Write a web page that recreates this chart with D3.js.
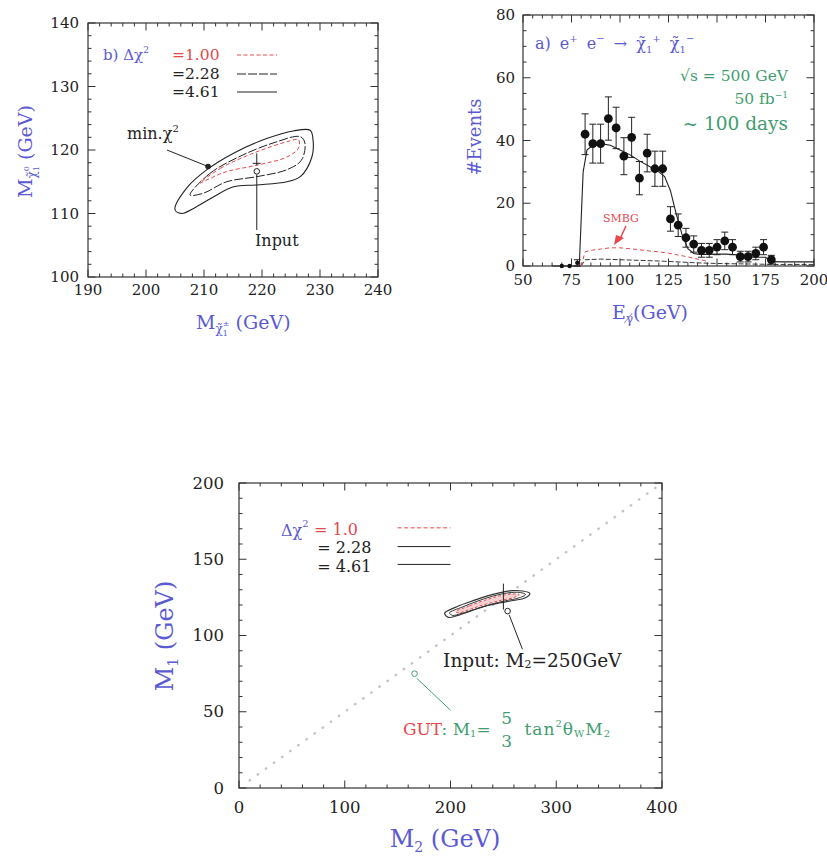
<!DOCTYPE html>
<html><head><meta charset="utf-8">
<script src="https://cdn.jsdelivr.net/npm/d3@7"></script>
<style>
body{margin:0;background:#fff}
svg{display:block}
text{font-family:'DejaVu Serif',serif}
</style>
</head><body>
<svg id="c" width="827" height="863"></svg>
<script>
// ---------------- DATA ----------------
// Panel b (top-left): chargino / neutralino mass fit contours [M_chargino, M_neutralino]
const bXTicks = [190, 200, 210, 220, 230, 240];
const bYTicks = [100, 110, 120, 130, 140];
const bLevels = ["=1.00", "=2.28", "=4.61"];
const bContour461 = [[205.0,110.6],[207.0,114.0],[210.5,116.9],[215.1,119.5],[220.8,121.8],[225.4,123.0],[228.3,123.1],[228.8,121.6],[228.6,118.9],[226.6,115.8],[224.3,115.0],[219.1,114.5],[215.1,114.2],[211.6,112.6],[208.2,110.8],[206.2,110.0]];
const bContour228 = [[207.6,112.9],[211.0,116.3],[216.2,119.0],[221.9,121.1],[226.6,122.1],[227.4,121.1],[226.8,118.4],[224.3,116.9],[219.1,115.8],[213.9,115.0],[209.9,113.2]];
const bContour100 = [[209.3,114.8],[212.8,117.1],[218.5,119.5],[224.3,121.3],[226.3,121.6],[226.3,120.3],[224.3,118.9],[219.1,117.6],[213.9,116.6],[210.5,115.3]];
const bMinChi2 = [210.7, 117.4];
const bInput = [219.1, 117.9];

// Panel a (top-right): photon energy spectrum
const aXTicks = [50, 75, 100, 125, 150, 175, 200];
const aYTicks = [0, 20, 40, 60, 80];
const evX   = [70, 74, 78, 82, 86, 90, 94, 98, 102, 106, 110, 114, 118, 122, 126, 130, 134, 138, 142, 146, 150, 154, 158, 162, 166, 170, 174, 178];
const evY   = [0, 0, 1, 42, 39, 39, 47, 44, 35, 41, 28, 36, 31, 31, 15, 13, 9, 7, 5, 5, 6, 8, 6, 3, 3, 4, 6, 2];
const evErr = [0, 0, 1, 6.5, 6.2, 6.2, 6.9, 6.6, 5.9, 6.4, 5.3, 6.0, 5.6, 5.6, 3.9, 3.6, 3.0, 2.6, 2.2, 2.2, 2.4, 2.8, 2.4, 1.7, 1.7, 2.0, 2.4, 1.4];
const totX  = [65, 79, 80, 81, 83, 86, 90, 95, 100, 105, 110, 115, 120, 123, 126, 129, 132, 135, 138, 141, 145, 150, 155, 160, 163, 170, 175, 178, 185, 190, 200];
const totY  = [0, 0, 15, 30, 37, 38.5, 39, 38.5, 37, 35.5, 33.5, 31.8, 30, 28.5, 24, 16.5, 10, 5.5, 4, 3.7, 3.7, 3.8, 3.8, 3.6, 2.8, 2.8, 2.8, 1.4, 1.3, 1.3, 1.3];
const smbgX = [80, 82, 86, 90, 95, 100, 105, 110, 115, 120, 125, 130, 135, 140, 145];
const smbgY = [0, 4.5, 5.1, 5.4, 5.8, 5.8, 5.5, 5.2, 4.8, 4.5, 4.1, 3.5, 2.9, 2.2, 1.5];
const bgX   = [80, 82, 90, 100, 110, 120, 130, 140, 150, 160, 170, 180, 190, 200];
const bgY   = [0, 2.0, 2.2, 2.0, 1.8, 1.6, 1.3, 1.0, 0.8, 0.7, 0.6, 0.5, 0.5, 0.5];

// Bottom panel: M1 vs M2
const cXTicks = [0, 100, 200, 300, 400];
const cYTicks = [0, 50, 100, 150, 200];
const cLevels = ["= 1.0", "= 2.28", "= 4.61"];
const cContour461 = [[194.5,114.6],[204,118.3],[218,122],[232,125.3],[245,127.8],[258,129.4],[268,129.2],[275,127.6],[271,124.8],[258,122.8],[246,121.3],[233,119.3],[220,116.3],[207,113.2],[198,111.9]];
const cContour228 = [[199,114.8],[211,118.6],[225,122.4],[240,125.8],[255,128],[266,128.2],[271,126.8],[264,124.5],[252,122.8],[238,120.4],[224,117.4],[210,114.4],[202,113.2]];
const cContour100 = [[205,115.6],[218,119.5],[232,123],[246,125.9],[258,127.2],[265,126.8],[260,124.9],[248,123.1],[234,120.6],[220,117.6],[208,114.8]];
const cInput = [250, 126];
const gutM2 = [10, 395];
const gutM1 = [5, 197.5];

// ---------------- DRAWING ----------------
const BLUE = '#5a5ad2', RED = '#e5484d', GREEN = '#3f9d70', INK = '#333', TXT = '#222';
const SANS = 'Liberation Sans, Arial, sans-serif';
const svg = d3.select('#c');

function frame(g, xs, ys, xMaj, xMinStep, yMaj, yMinStep, fs, xOff, yOff) {
  const [xa, xb] = xs.range(), [ya, yb] = ys.range();
  g.append('rect').attr('x', xa).attr('y', yb).attr('width', xb - xa).attr('height', ya - yb)
    .attr('fill', 'none').attr('stroke', INK).attr('stroke-width', 1.2);
  const [dx0, dx1] = xs.domain(), [dy0, dy1] = ys.domain();
  const tk = g.append('g').attr('stroke', INK).attr('stroke-width', 1);
  d3.range(dx0, dx1 + 1e-9, xMinStep).forEach(v => {
    const isMaj = xMaj.some(m => Math.abs(m - v) < 1e-6);
    const L = isMaj ? 7.5 : 3.5;
    tk.append('line').attr('x1', xs(v)).attr('x2', xs(v)).attr('y1', ya).attr('y2', ya - L);
    tk.append('line').attr('x1', xs(v)).attr('x2', xs(v)).attr('y1', yb).attr('y2', yb + L);
  });
  d3.range(dy0, dy1 + 1e-9, yMinStep).forEach(v => {
    const isMaj = yMaj.some(m => Math.abs(m - v) < 1e-6);
    const L = isMaj ? 7.5 : 3.5;
    tk.append('line').attr('y1', ys(v)).attr('y2', ys(v)).attr('x1', xa).attr('x2', xa + L);
    tk.append('line').attr('y1', ys(v)).attr('y2', ys(v)).attr('x1', xb).attr('x2', xb - L);
  });
  g.selectAll(null).data(xMaj).enter().append('text')
    .attr('x', d => xs(d)).attr('y', ya + xOff).attr('text-anchor', 'middle')
    .attr('dominant-baseline', 'central').attr('font-size', fs).attr('fill', TXT).text(d => d);
  g.selectAll(null).data(yMaj).enter().append('text')
    .attr('x', xa - yOff).attr('y', d => ys(d)).attr('text-anchor', 'end')
    .attr('dominant-baseline', 'central').attr('font-size', fs).attr('fill', TXT).text(d => d);
}

const closed = (xs, ys) => d3.line().x(d => xs(d[0])).y(d => ys(d[1])).curve(d3.curveCatmullRomClosed.alpha(0.5));

// ===== Panel b (top-left) =====
{
  const g = svg.append('g');
  const xs = d3.scaleLinear([190, 240], [88, 378]);
  const ys = d3.scaleLinear([100, 140], [277, 23]);
  frame(g, xs, ys, bXTicks, 2, bYTicks, 2, 15, 13, 9);

  const line = closed(xs, ys);
  g.append('path').attr('d', line(bContour461)).attr('fill', 'none').attr('stroke', '#222').attr('stroke-width', 1.1);
  g.append('path').attr('d', line(bContour228)).attr('fill', 'none').attr('stroke', '#222').attr('stroke-width', 1).attr('stroke-dasharray', '9,2');
  g.append('path').attr('d', line(bContour100)).attr('fill', 'none').attr('stroke', RED).attr('stroke-width', 1).attr('stroke-dasharray', '4,2.5');

  // min chi2 marker + label
  g.append('line').attr('x1', 167).attr('y1', 150).attr('x2', xs(bMinChi2[0])).attr('y2', ys(bMinChi2[1])).attr('stroke', '#222');
  g.append('circle').attr('cx', xs(bMinChi2[0])).attr('cy', ys(bMinChi2[1])).attr('r', 2.8).attr('fill', '#222');
  const mt = g.append('text').attr('x', 127).attr('y', 139).attr('font-size', 16).attr('fill', TXT);
  mt.append('tspan').text('min.χ');
  mt.append('tspan').attr('dy', -7).attr('font-size', 10).text('2');

  // input marker
  const ix = xs(bInput[0]), iy = ys(bInput[1]);
  g.append('line').attr('x1', ix).attr('x2', ix).attr('y1', iy - 10).attr('y2', iy + 2).attr('stroke', '#222');
  g.append('line').attr('x1', ix - 4).attr('x2', ix + 4).attr('y1', iy).attr('y2', iy).attr('stroke', '#222');
  g.append('circle').attr('cx', ix).attr('cy', iy + 8).attr('r', 2.8).attr('fill', 'none').attr('stroke', '#222');
  g.append('line').attr('x1', ix).attr('x2', ix).attr('y1', iy + 11).attr('y2', 230).attr('stroke', '#222');
  g.append('text').attr('x', 255).attr('y', 246).attr('font-size', 16).attr('fill', TXT).text('Input');

  // legend
  const lg = g.append('g');
  const bt = lg.append('text').attr('x', 103).attr('y', 60).attr('font-size', 15).attr('fill', BLUE);
  bt.append('tspan').text('b) Δχ');
  bt.append('tspan').attr('dy', -7).attr('font-size', 9).text('2');
  const legY = [60, 79, 97];
  const legStyle = [{c: RED, d: '4,2.5'}, {c: '#222', d: '9,2'}, {c: '#222', d: null}];
  bLevels.forEach((t, i) => {
    lg.append('text').attr('x', 172).attr('y', legY[i]).attr('font-size', 15.5).attr('fill', i === 0 ? RED : TXT).text(t);
    const l = lg.append('line').attr('x1', 237).attr('x2', 277).attr('y1', legY[i] - 5).attr('y2', legY[i] - 5)
      .attr('stroke', legStyle[i].c).attr('stroke-width', 1);
    if (legStyle[i].d) l.attr('stroke-dasharray', legStyle[i].d);
  });

  // axis titles
  const xt = g.append('text').attr('x', 196).attr('y', 329).attr('font-size', 19).attr('fill', BLUE);
  xt.append('tspan').text('M');
  xt.append('tspan').attr('dy', 4).attr('font-size', 12).text('χ̃');
  xt.append('tspan').attr('dy', 3).attr('font-size', 8).text('1');
  xt.append('tspan').attr('dy', -10).attr('dx', -5).attr('font-size', 8).text('±');
  xt.append('tspan').attr('dy', 3).attr('font-size', 19).text(' (GeV)');

  const yt = g.append('text').attr('transform', 'translate(32,198) rotate(-90)').attr('font-size', 19).attr('fill', BLUE);
  yt.append('tspan').text('M');
  yt.append('tspan').attr('dy', 4).attr('font-size', 12).text('χ̃');
  yt.append('tspan').attr('dy', 3).attr('font-size', 8).text('1');
  yt.append('tspan').attr('dy', -10).attr('dx', -5).attr('font-size', 8).text('0');
  yt.append('tspan').attr('dy', 3).attr('font-size', 19).text(' (GeV)');
}

// ===== Panel a (top-right) =====
{
  const g = svg.append('g');
  const xs = d3.scaleLinear([50, 200], [523, 814]);
  const ys = d3.scaleLinear([0, 80], [266, 15]);
  frame(g, xs, ys, aXTicks, 5, aYTicks, 5, 15, 14, 8);

  const ln = (X, Y) => d3.line().x((d, i) => xs(X[i])).y((d, i) => ys(Y[i]))(X);
  g.append('path').attr('d', ln(bgX, bgY)).attr('fill', 'none').attr('stroke', '#222').attr('stroke-width', 0.9).attr('stroke-dasharray', '5,2');
  g.append('path').attr('d', ln(smbgX, smbgY)).attr('fill', 'none').attr('stroke', RED).attr('stroke-width', 1).attr('stroke-dasharray', '4,3');
  g.append('path').attr('d', ln(totX, totY)).attr('fill', 'none').attr('stroke', '#222').attr('stroke-width', 1.1);

  const pts = g.append('g');
  evX.forEach((x, i) => {
    const cx = xs(x);
    if (evErr[i] > 0) {
      const y1 = ys(evY[i] + evErr[i]), y2 = ys(evY[i] - evErr[i]);
      pts.append('line').attr('x1', cx).attr('x2', cx).attr('y1', y1).attr('y2', y2).attr('stroke', '#222').attr('stroke-width', 1);
      pts.append('line').attr('x1', cx - 3.5).attr('x2', cx + 3.5).attr('y1', y1).attr('y2', y1).attr('stroke', '#222');
      pts.append('line').attr('x1', cx - 3.5).attr('x2', cx + 3.5).attr('y1', y2).attr('y2', y2).attr('stroke', '#222');
    }
    pts.append('circle').attr('cx', cx).attr('cy', ys(evY[i])).attr('r', evY[i] > 1 ? 4.4 : 2.2).attr('fill', '#111');
  });

  // SMBG label + arrow
  g.append('text').attr('x', 603).attr('y', 222).attr('font-family', SANS)
    .attr('font-size', 11).attr('fill', RED).text('SMBG');
  g.append('line').attr('x1', 626).attr('y1', 226).attr('x2', 619).attr('y2', 241).attr('stroke', RED).attr('stroke-width', 1.5);
  g.append('path').attr('d', 'M614,245 L616,235 L624,238 Z').attr('fill', RED);

  // process label
  const pt = g.append('text').attr('x', 535).attr('y', 49).attr('font-size', 16).attr('word-spacing', 4).attr('fill', BLUE);
  pt.append('tspan').text('a) e');
  pt.append('tspan').attr('dy', -7).attr('font-size', 10).text('+');
  pt.append('tspan').attr('dy', 7).text(' e');
  pt.append('tspan').attr('dy', -7).attr('font-size', 10).text('−');
  pt.append('tspan').attr('dy', 7).text(' → χ̃');
  pt.append('tspan').attr('dy', 4).attr('font-size', 10).text('1');
  pt.append('tspan').attr('dy', -11).attr('font-size', 10).text('+');
  pt.append('tspan').attr('dy', 7).text(' χ̃');
  pt.append('tspan').attr('dy', 4).attr('font-size', 10).text('1');
  pt.append('tspan').attr('dy', -11).attr('font-size', 10).text('−');

  g.append('text').attr('x', 788).attr('y', 81).attr('text-anchor', 'end').attr('font-size', 15.5).attr('fill', GREEN).text('√s = 500 GeV');
  const fb = g.append('text').attr('x', 788).attr('y', 104).attr('text-anchor', 'end').attr('font-size', 15.5).attr('fill', GREEN);
  fb.append('tspan').text('50 fb');
  fb.append('tspan').attr('dy', -6).attr('font-size', 9).text('−1');
  g.append('text').attr('x', 788).attr('y', 130).attr('text-anchor', 'end').attr('font-family', SANS)
    .attr('font-size', 18.5).attr('fill', GREEN).text('~ 100 days');

  const xt = g.append('text').attr('x', 612).attr('y', 319).attr('font-size', 19).attr('fill', BLUE);
  xt.append('tspan').text('E');
  xt.append('tspan').attr('dy', 4).attr('font-size', 12).text('γ̸');
  xt.append('tspan').attr('dy', -4).text('(GeV)');
  g.append('text').attr('transform', 'translate(481,137) rotate(-90)').attr('text-anchor', 'middle')
    .attr('font-size', 18).attr('fill', BLUE).text('#Events');
}

// ===== Bottom panel =====
{
  const g = svg.append('g');
  const xs = d3.scaleLinear([0, 400], [239, 662]);
  const ys = d3.scaleLinear([0, 200], [788, 483]);
  frame(g, xs, ys, cXTicks, 20, cYTicks, 10, 16.5, 19, 15);

  // GUT dotted line
  g.append('line').attr('x1', xs(gutM2[0])).attr('y1', ys(gutM1[0])).attr('x2', xs(gutM2[1])).attr('y2', ys(gutM1[1]))
    .attr('stroke', '#c4c4c4').attr('stroke-width', 2.4).attr('stroke-linecap', 'round').attr('stroke-dasharray', '0.5,9.5');

  const line = closed(xs, ys);
  g.append('path').attr('d', line(cContour461)).attr('fill', 'none').attr('stroke', '#333').attr('stroke-width', 1.2);
  g.append('path').attr('d', line(cContour228)).attr('fill', 'none').attr('stroke', '#333').attr('stroke-width', 1);
  g.append('path').attr('d', line(cContour100)).attr('fill', '#f4d2d4').attr('stroke', RED).attr('stroke-width', 1).attr('stroke-dasharray', '3,2');

  // input marker
  const ix = xs(cInput[0]);
  g.append('line').attr('x1', ix).attr('x2', ix).attr('y1', ys(134)).attr('y2', ys(117)).attr('stroke', '#222');
  g.append('circle').attr('cx', xs(254)).attr('cy', ys(116)).attr('r', 2.8).attr('fill', 'none').attr('stroke', '#222');
  g.append('line').attr('x1', xs(255.5)).attr('y1', ys(113.5)).attr('x2', xs(268)).attr('y2', ys(91)).attr('stroke', '#222');
  const it = g.append('text').attr('x', xs(193)).attr('y', ys(83.7)).attr('dominant-baseline', 'central').attr('font-size', 18.5).attr('fill', TXT);
  it.append('tspan').text('Input: M');
  it.append('tspan').attr('dy', 4).attr('font-size', 11).text('2');
  it.append('tspan').attr('dy', -4).text('=250GeV');

  // GUT annotation
  g.append('circle').attr('cx', xs(166)).attr('cy', ys(75)).attr('r', 2.8).attr('fill', 'none').attr('stroke', GREEN);
  g.append('line').attr('x1', xs(168)).attr('y1', ys(72)).attr('x2', xs(200)).attr('y2', ys(51)).attr('stroke', GREEN).attr('stroke-width', 1);
  const gy = ys(39);
  const gt = g.append('text').attr('x', xs(155)).attr('y', gy).attr('dominant-baseline', 'central').attr('font-size', 17);
  gt.append('tspan').attr('fill', RED).text('GUT');
  gt.append('tspan').attr('fill', GREEN).text(': M');
  gt.append('tspan').attr('fill', GREEN).attr('dy', 4).attr('font-size', 10).text('1');
  gt.append('tspan').attr('fill', GREEN).attr('dy', -4).text('=');
  g.append('text').attr('x', xs(253)).attr('y', ys(46)).attr('text-anchor', 'middle').attr('dominant-baseline', 'central').attr('font-size', 17).attr('fill', GREEN).text('5');
  g.append('text').attr('x', xs(253)).attr('y', ys(31)).attr('text-anchor', 'middle').attr('dominant-baseline', 'central').attr('font-size', 17).attr('fill', GREEN).text('3');
  const tt = g.append('text').attr('x', xs(270)).attr('y', gy).attr('dominant-baseline', 'central').attr('font-size', 17).attr('letter-spacing', 1).attr('fill', GREEN);
  tt.append('tspan').text('tan');
  tt.append('tspan').attr('dy', -6).attr('font-size', 10).text('2');
  tt.append('tspan').attr('dy', 6).text('θ');
  tt.append('tspan').attr('dy', 4).attr('font-size', 10).text('W');
  tt.append('tspan').attr('dy', -4).text('M');
  tt.append('tspan').attr('dy', 4).attr('font-size', 10).text('2');

  // legend
  const lt = g.append('text').attr('x', xs(39.7)).attr('y', ys(169.5)).attr('dominant-baseline', 'central').attr('font-size', 16).attr('fill', BLUE);
  lt.append('tspan').text('Δχ');
  lt.append('tspan').attr('dy', -7).attr('font-size', 10).text('2');
  const lx = [71, 74, 74], ly = [169.5, 157.5, 145.5], lineY = [170.6, 158.3, 146.6];
  cLevels.forEach((t, i) => {
    g.append('text').attr('x', xs(lx[i])).attr('y', ys(ly[i])).attr('dominant-baseline', 'central').attr('font-size', 16)
      .attr('fill', i === 0 ? RED : TXT).text(t);
    const l = g.append('line').attr('x1', xs(150)).attr('x2', xs(200)).attr('y1', ys(lineY[i])).attr('y2', ys(lineY[i]))
      .attr('stroke', i === 0 ? RED : '#222').attr('stroke-width', 1);
    if (i === 0) l.attr('stroke-dasharray', '4,2.5');
  });

  // titles
  const xt = g.append('text').attr('x', 445).attr('y', 847).attr('text-anchor', 'middle').attr('font-size', 24).attr('fill', BLUE);
  xt.append('tspan').text('M');
  xt.append('tspan').attr('dy', 5).attr('font-size', 14).text('2');
  xt.append('tspan').attr('dy', -5).text(' (GeV)');
  const yt = g.append('text').attr('transform', 'translate(173,636) rotate(-90)').attr('text-anchor', 'middle').attr('font-size', 24).attr('fill', BLUE);
  yt.append('tspan').text('M');
  yt.append('tspan').attr('dy', 5).attr('font-size', 14).text('1');
  yt.append('tspan').attr('dy', -5).text(' (GeV)');
}
</script>
</body></html>
